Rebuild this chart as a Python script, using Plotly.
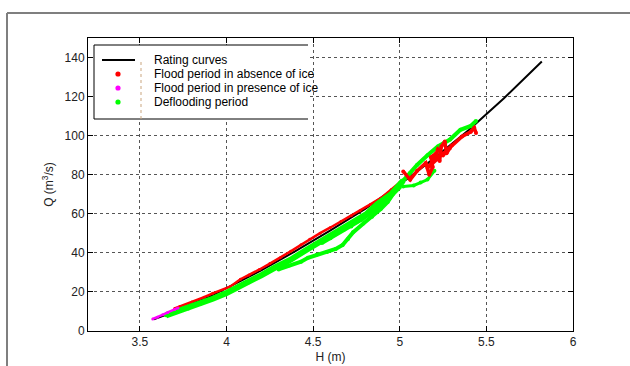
import plotly.graph_objects as go

# ---------------- data ----------------
# Rating curve
rc_H = [3.58, 3.70, 3.80, 3.90, 4.00, 4.20, 4.40, 4.60, 4.80, 5.00, 5.20, 5.40, 5.60, 5.82]
rc_Q = [6.0, 10.0, 14.0, 17.5, 22.0, 31.0, 41.0, 51.5, 62.5, 75.0, 88.5, 103.0, 119.0, 138.0]

# Flood period in absence of ice (red) - main band
red_band_H = [3.70, 3.73, 3.80, 3.87, 3.92, 4.02, 4.08, 4.13, 4.19, 4.25, 4.31, 4.37, 4.43, 4.48,
              4.54, 4.60, 4.66, 4.72, 4.77, 4.83, 4.89, 4.95, 5.00, 5.06]
red_band_Q = [11.5, 12.5, 14.8, 17.3, 19.3, 22.7, 26.5, 28.7, 31.5, 34.5, 37.5, 40.8, 44.1, 47.0,
              50.1, 53.0, 56.0, 59.0, 61.5, 64.8, 68.0, 72.3, 76.0, 79.5]
# red cloud near H = 5.2 and upper points
red_cloud_H = [5.02, 5.06, 5.10, 5.15, 5.17, 5.19, 5.18, 5.21, 5.23, 5.24, 5.26, 5.27, 5.29,
               5.25, 5.22, 5.20, 5.16, 5.30, 5.36, 5.41, 5.43, 5.44]
red_cloud_Q = [81.7, 77.4, 82.0, 86.0, 80.0, 84.0, 89.0, 91.0, 87.0, 94.5, 97.0, 91.0, 93.7,
               90.0, 93.0, 88.0, 83.5, 95.0, 99.6, 102.0, 104.0, 101.4]

# Flood period in presence of ice (magenta)
mag_H = [3.574, 3.60, 3.63, 3.66, 3.70, 3.72]
mag_Q = [6.2, 7.0, 8.3, 9.5, 11.0, 11.8]

# Deflooding period (green) - main band, lower part
grn_main_H = [3.65, 3.70, 3.78, 3.85, 3.92, 4.00, 4.06, 4.13, 4.20, 4.28, 4.37, 4.46, 4.56, 4.66,
              4.74, 4.81, 4.87, 4.95, 5.02]
grn_main_Q = [8.0, 9.5, 11.5, 14.0, 16.5, 19.5, 22.0, 25.0, 28.5, 32.5, 36.5, 41.5, 47.0, 52.0,
              56.5, 60.0, 65.0, 70.0, 77.0]
# main band, upper part
grn_top_H = [5.02, 5.06, 5.10, 5.16, 5.22, 5.29, 5.35, 5.41, 5.44]
grn_top_Q = [77.0, 81.0, 85.0, 90.0, 94.5, 98.0, 103.0, 105.0, 107.5]
# lower hysteresis loop
grn_low_H = [4.30, 4.36, 4.43, 4.47, 4.52, 4.58, 4.63, 4.67, 4.70, 4.73, 4.79, 4.84, 4.89, 4.93,
             4.96, 5.00]
grn_low_Q = [31.5, 33.5, 35.5, 37.5, 39.0, 40.5, 42.0, 44.0, 47.0, 50.5, 55.0, 58.5, 62.5, 66.0,
             70.0, 73.5]
# middle strand
grn_mid_H = [4.55, 4.60, 4.64, 4.68, 4.72, 4.78, 4.85, 4.91]
grn_mid_Q = [45.0, 47.5, 50.0, 52.0, 53.5, 57.0, 61.5, 66.0]
# strand below the red cloud
grn_up_H = [5.02, 5.08, 5.12, 5.16, 5.20]
grn_up_Q = [74.0, 74.5, 76.0, 77.5, 82.0]

x_ticks = [3.5, 4, 4.5, 5, 5.5, 6]
y_ticks = [0, 20, 40, 60, 80, 100, 120, 140]

legend_names = ["Rating curves", "Flood period in absence of ice",
                "Flood period in presence of ice", "Deflooding period"]

RED = "#ff0000"
GREEN = "#00ff00"
MAG = "#ff00ff"
FONT = "Liberation Sans, Arial, sans-serif"

# plot area in pixels (for the hand-built legend / window frame)
W, H = 630, 366
ML, MR, MT, MB = 88, 57, 38, 35
PW, PH = W - ML - MR, H - MT - MB


def px(x):
    return (x - ML) / PW


def py(y):
    return (H - MB - y) / PH


fig = go.Figure()

fig.add_trace(go.Scatter(x=rc_H, y=rc_Q, mode="lines", name=legend_names[0],
                         line=dict(color="black", width=2)))

fig.add_trace(go.Scatter(x=red_band_H, y=red_band_Q, mode="lines+markers", name=legend_names[1],
                         line=dict(color=RED, width=2.5), marker=dict(color=RED, size=3)))

for gx, gy, w in [(grn_main_H, grn_main_Q, 6), (grn_top_H, grn_top_Q, 4),
                  (grn_low_H, grn_low_Q, 4), (grn_mid_H, grn_mid_Q, 4),
                  (grn_up_H, grn_up_Q, 3)]:
    fig.add_trace(go.Scatter(x=gx, y=gy, mode="lines+markers", name=legend_names[3],
                             line=dict(color=GREEN, width=w), marker=dict(color=GREEN, size=4)))

fig.add_trace(go.Scatter(x=red_cloud_H, y=red_cloud_Q, mode="lines+markers", name=legend_names[1],
                         line=dict(color=RED, width=3.5), marker=dict(color=RED, size=4)))

fig.add_trace(go.Scatter(x=mag_H, y=mag_Q, mode="lines+markers", name=legend_names[2],
                         line=dict(color=MAG, width=2.5), marker=dict(color=MAG, size=3)))

axis_common = dict(showline=True, linecolor="black", linewidth=1, mirror="ticks",
                   ticks="inside", ticklen=5, tickcolor="black", automargin=False,
                   showgrid=True, gridcolor="#555555", gridwidth=1, griddash="3px,3px",
                   zeroline=False, tickfont=dict(family=FONT, size=12, color="#222222"))

fig.update_xaxes(range=[3.2, 6], tickvals=x_ticks, ticktext=[str(t) for t in x_ticks],
                 title=dict(text="H (m)", font=dict(family=FONT, size=12, color="#222222"),
                            standoff=4),
                 **axis_common)
fig.update_yaxes(range=[0, 150], tickvals=y_ticks,
                 title=dict(text="Q (m<sup>3</sup>/s)",
                            font=dict(family=FONT, size=12, color="#222222"), standoff=8),
                 **axis_common)

shapes = []
# outer window frame (grey border lines)
frame = dict(type="line", xref="paper", yref="paper", line=dict(color="#7f7f7f", width=2))
shapes.append(dict(x0=px(7), x1=px(640), y0=py(13), y1=py(13), **frame))
shapes.append(dict(x0=px(7), x1=px(7), y0=py(13), y1=py(370), **frame))

# legend box (MATLAB-style)
LX0, LX1, LY0, LY1 = 94, 308, 45, 119
shapes.append(dict(type="rect", xref="paper", yref="paper", x0=px(LX0), x1=px(LX1),
                   y0=py(LY1), y1=py(LY0), fillcolor="white", line=dict(width=0), layer="above"))
bl = dict(type="line", xref="paper", yref="paper", line=dict(color="black", width=1), layer="above")
shapes.append(dict(x0=px(LX0), x1=px(LX1), y0=py(LY0), y1=py(LY0), **bl))
shapes.append(dict(x0=px(LX0), x1=px(LX0), y0=py(LY0), y1=py(LY1), **bl))
shapes.append(dict(x0=px(LX0), x1=px(LX1), y0=py(LY1), y1=py(LY1), **bl))
# faint grid line bleeding through the legend
shapes.append(dict(type="line", xref="paper", yref="paper", x0=px(141), x1=px(141),
                   y0=py(62), y1=py(119), layer="above",
                   line=dict(color="#c9a57f", width=1, dash="3px,3px")))

row_y = [60, 74, 88, 102]
# rating curve sample line
shapes.append(dict(type="line", xref="paper", yref="paper", x0=px(102), x1=px(135),
                   y0=py(row_y[0]), y1=py(row_y[0]), layer="above",
                   line=dict(color="black", width=2)))
# marker samples
r = 2.6
for yy, col in zip(row_y[1:], [RED, MAG, GREEN]):
    shapes.append(dict(type="circle", xref="paper", yref="paper",
                       x0=px(118 - r), x1=px(118 + r), y0=py(yy + r), y1=py(yy - r),
                       fillcolor=col, line=dict(color=col, width=0), layer="above"))

annotations = []
for yy, name in zip(row_y, legend_names):
    annotations.append(dict(x=px(152), y=py(yy), xref="paper", yref="paper", text=name,
                            showarrow=False, xanchor="left", yanchor="middle",
                            font=dict(family=FONT, size=12, color="black")))

fig.update_layout(
    width=W, height=H,
    margin=dict(l=ML, r=MR, t=MT, b=MB),
    paper_bgcolor="white", plot_bgcolor="white",
    font=dict(family=FONT, size=12, color="#222222"),
    showlegend=False,
    shapes=shapes, annotations=annotations,
)

fig.write_html("out.html", config={"displayModeBar": False},
               post_script="document.body.style.margin='0px';document.body.style.overflow='hidden';")
